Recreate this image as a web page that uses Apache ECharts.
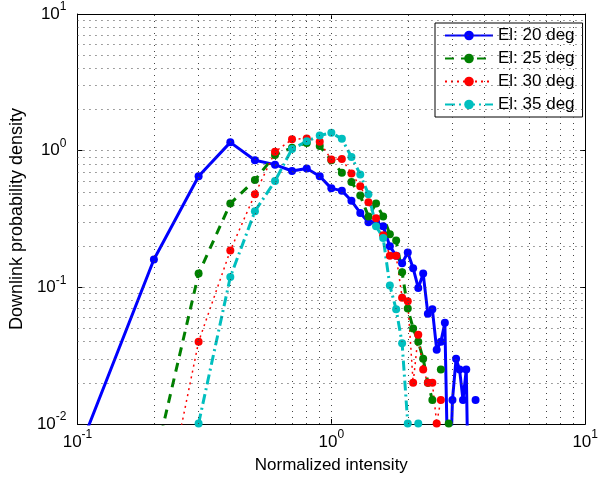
<!DOCTYPE html>
<html>
<head>
<meta charset="utf-8">
<script src="https://cdn.jsdelivr.net/npm/echarts@6/dist/echarts.min.js"></script>
<style>
  html, body { margin: 0; padding: 0; background: #fff; }
  #main { width: 601px; height: 479px; }
</style>
</head>
<body>
<div id="main"></div>
<script>
// normalized intensity bins
const intensity = [0.1, 0.2, 0.3, 0.4, 0.5, 0.6, 0.7, 0.8, 0.9, 1.0,
  1.1, 1.2, 1.3, 1.4, 1.5, 1.6, 1.7, 1.8, 1.9, 2.0,
  2.1, 2.2, 2.3, 2.4, 2.5, 2.6, 2.7, 2.8, 2.9, 3.0,
  3.1, 3.2, 3.3, 3.4, 3.5, 3.6, 3.7];

const el20 = [0.006, 0.16, 0.65, 1.15, 0.85, 0.79, 0.71, 0.74, 0.65, 0.53,
  0.51, 0.43, 0.35, 0.30, 0.30, 0.28, 0.20, 0.17, 0.15, 0.18,
  0.138, 0.099, 0.126, 0.064, 0.069, 0.035, 0.04, 0.055, 0.002, 0.015,
  0.030, 0.025, 0.015, 0.025, 0.001, null, 0.015];

const el25 = [null, 0.005, 0.126, 0.41, 0.61, 0.93, 1.05, 1.14, 1.08, 0.85,
  0.69, 0.59, 0.47, 0.33, 0.41, 0.33, 0.245, 0.22, 0.129, 0.07,
  0.05, 0.04, 0.03, 0.02, 0.015, null, 0.025, null, 0.0101, null,
  null, null, null, null, null, null, null];

const el30 = [null, 0.001, 0.04, 0.186, 0.48, 0.98, 1.21, 1.23, 1.16, 0.86,
  0.87, 0.68, 0.55, 0.42, 0.32, 0.24, 0.17, 0.17, 0.084, 0.079,
  0.02, 0.045, 0.025, 0.02, 0.02, 0.0101, 0.015, null, null, null,
  null, null, null, null, null, null, null];

const el35 = [null, null, 0.0101, 0.119, 0.36, 0.60, 1.03, 1.17, 1.29, 1.35,
  1.22, 0.90, 0.67, 0.48, 0.28, 0.23, 0.103, 0.069, 0.039, 0.0101,
  null, 0.0101, null, null, null, null, null, null, null, null,
  null, null, null, null, null, null, null];

const seriesNames = ['El: 20 deg', 'El: 25 deg', 'El: 30 deg', 'El: 35 deg'];

// grid line positions (MATLAB style major + minor grid)
const gridX = [0.2, 0.3, 0.4, 0.5, 0.6, 0.7, 0.8, 0.9, 1, 2, 3, 4, 5, 6, 7, 8, 9];
const gridY = [0.02, 0.03, 0.04, 0.05, 0.06, 0.07, 0.08, 0.09, 0.1,
  0.2, 0.3, 0.4, 0.5, 0.6, 0.7, 0.8, 0.9, 1,
  2, 3, 4, 5, 6, 7, 8, 9];

const font = "'Liberation Sans', Arial, sans-serif";
const chart = echarts.init(document.getElementById('main'));

const pairs = ys => intensity.map((x, i) => [x, ys[i]]);

const supLabel = {
  fontFamily: font,
  color: '#000',
  formatter: v => '{b|10}{s|' + Math.round(Math.log10(v)) + '}',
  rich: {
    b: { fontSize: 17, lineHeight: 26, fontFamily: font, color: '#000' },
    s: { fontSize: 12, lineHeight: 12, verticalAlign: 'top', fontFamily: font, color: '#000' }
  }
};

const tick = { show: true, inside: true, length: 5, lineStyle: { color: '#000' } };
const axLine = { show: true, lineStyle: { color: '#000', width: 1 } };

const mkSeries = (name, data, color, type, width) => ({
  name: name,
  type: 'line',
  data: pairs(data),
  z: 3,
  symbol: 'circle',
  symbolSize: 8,
  showSymbol: true,
  connectNulls: false,
  lineStyle: { color: color, width: width, type: type },
  itemStyle: { color: color },
  emphasis: { disabled: true },
  animation: false
});

chart.setOption({
  animation: false,
  backgroundColor: '#fff',
  grid: { left: 71, right: 9, top: 14, bottom: 53, containLabel: false },
  legend: {
    data: seriesNames,
    orient: 'vertical',
    left: 435,
    top: 23,
    padding: [4, 8, 4, 9],
    itemWidth: 48,
    itemHeight: 12,
    itemGap: 6,
    borderColor: '#000',
    borderWidth: 1,
    backgroundColor: '#fff',
    textStyle: { fontSize: 17, fontFamily: font, color: '#000' }
  },
  xAxis: [{
    type: 'log', logBase: 10, min: 0.1, max: 10,
    name: 'Normalized intensity', nameLocation: 'middle', nameGap: 33,
    nameTextStyle: { fontSize: 17, fontFamily: font, color: '#000' },
    axisLine: axLine, axisTick: tick, splitLine: { show: false },
    axisLabel: Object.assign({ margin: 5, showMinLabel: true, showMaxLabel: true }, supLabel)
  }, {
    type: 'log', logBase: 10, min: 0.1, max: 10, position: 'top',
    axisLine: axLine, axisTick: tick, splitLine: { show: false },
    axisLabel: { show: false }
  }],
  yAxis: [{
    type: 'log', logBase: 10, min: 0.01, max: 10,
    name: 'Downlink probability density', nameLocation: 'middle', nameGap: 32,
    nameTextStyle: { fontSize: 18, fontFamily: font, color: '#000' },
    axisLine: axLine, axisTick: tick, splitLine: { show: false },
    axisLabel: Object.assign({ margin: 11, showMinLabel: true, showMaxLabel: true }, supLabel)
  }, {
    type: 'log', logBase: 10, min: 0.01, max: 10, position: 'right',
    axisLine: axLine, axisTick: tick, splitLine: { show: false },
    axisLabel: { show: false }
  }],
  series: [
    {
      name: 'grid',
      type: 'line',
      data: [],
      z: 1,
      silent: true,
      markLine: {
        silent: true,
        symbol: ['none', 'none'],
        label: { show: false },
        animation: false,
        lineStyle: { color: '#444', width: 1, type: [1, 5] },
        data: gridX.map(v => ({ xAxis: v })).concat(gridY.map(v => ({ yAxis: v })))
      }
    },
    mkSeries(seriesNames[0], el20, '#0000ff', 'solid', 3),
    mkSeries(seriesNames[1], el25, '#008000', [9, 7], 3),
    mkSeries(seriesNames[2], el30, '#ff0000', [2, 4], 1.5),
    mkSeries(seriesNames[3], el35, '#00bfbf', [10, 4, 2, 4], 3)
  ]
});
</script>
</body>
</html>
